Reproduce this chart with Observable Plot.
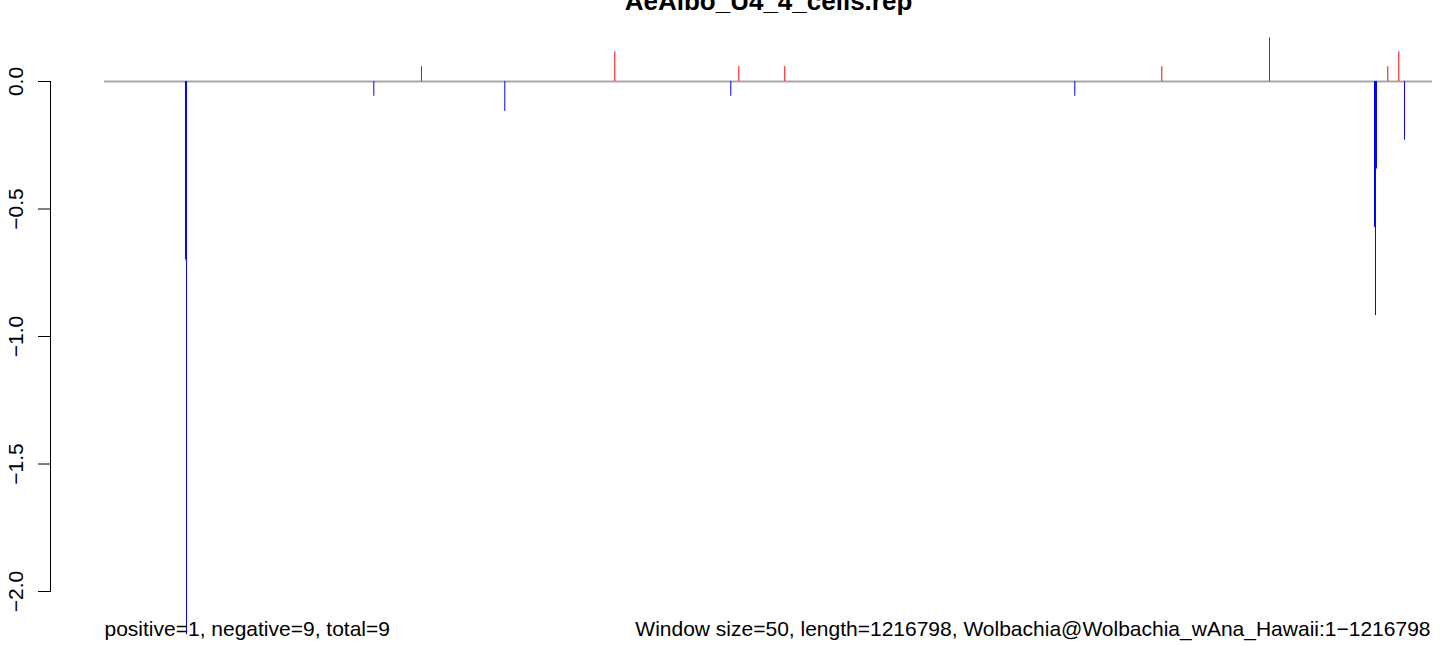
<!DOCTYPE html>
<html>
<head>
<meta charset="utf-8">
<script src="https://cdn.jsdelivr.net/npm/d3@7"></script>
<script src="https://cdn.jsdelivr.net/npm/@observablehq/plot@0.6"></script>
<style>
  html, body { margin: 0; padding: 0; background: #ffffff; }
  #chart svg { display: block; }
</style>
</head>
<body>
<div id="chart"></div>
<script>
const title = "AeAlbo_U4_4_cells.rep";
const genomeLength = 1216798;
const leftNote = "positive=1, negative=9, total=9";
const rightNote = "Window size=50, length=1216798, Wolbachia@Wolbachia_wAna_Hawaii:1\u22121216798";

// positive windows (red)
const posPositions = [290450, 467570, 581190, 623330, 968770, 1067450, 1175840, 1185920];
const posValues    = [0.058, 0.116, 0.058, 0.058, 0.058, 0.171, 0.058, 0.116];

// negative windows (blue)
const negPositions = [74200, 75130, 246750, 366780, 573850, 889050, 1163650, 1164565, 1165480, 1191140];
const negValues    = [-0.70, -2.17, -0.058, -0.117, -0.058, -0.058, -0.572, -0.918, -0.343, -0.23];

const yTicks = [0, -0.5, -1.0, -1.5, -2.0];

const positives = posPositions.map((p, i) => ({pos: p, value: posValues[i]}));
const negatives = negPositions.map((p, i) => ({pos: p, value: negValues[i]}));

const fmt = d3.format(".1f");
const font = "'Liberation Sans', Arial, Helvetica, sans-serif";

const chart = Plot.plot({
  width: 1444,
  height: 646,
  marginLeft: 50,
  marginRight: 12,
  marginTop: 81,
  marginBottom: 55,
  x: {domain: [0, genomeLength], range: [104, 1432], axis: null},
  y: {domain: [-2, 0], axis: null},
  style: {fontFamily: font, background: "#ffffff", color: "#000000", overflow: "visible"},
  marks: [
    Plot.ruleY([0], {x1: 0, x2: genomeLength, stroke: "#a6a6a6", strokeWidth: 2}),
    Plot.ruleX(positives, {x: "pos", y1: 0, y2: "value", stroke: "#ff0000", strokeWidth: 1}),
    Plot.ruleX(negatives, {x: "pos", y1: 0, y2: "value", stroke: "#0000ff", strokeWidth: 1}),
    Plot.axisY(yTicks, {tickSize: 12, tickFormat: () => "", label: null, stroke: "#000000"}),
    Plot.frame({anchor: "left", stroke: "#000000"}),
    Plot.text(yTicks, {y: d => d, text: d => fmt(d), frameAnchor: "left", dx: -28, rotate: -90,
      textAnchor: "middle", lineAnchor: "bottom", fontSize: 21, fill: "#000000"}),
    Plot.text([title], {x: () => genomeLength / 2, text: d => d, frameAnchor: "top", dy: -72,
      textAnchor: "middle", lineAnchor: "bottom", fontSize: 26, fontWeight: "bold", fill: "#000000"}),
    Plot.text([leftNote], {x: () => 0, text: d => d, frameAnchor: "bottom", dy: 44,
      textAnchor: "start", lineAnchor: "bottom", fontSize: 21, fill: "#000000"}),
    Plot.text([rightNote], {x: () => genomeLength, text: d => d, frameAnchor: "bottom", dy: 44, dx: -2,
      textAnchor: "end", lineAnchor: "bottom", fontSize: 21, fill: "#000000"})
  ]
});
document.getElementById("chart").appendChild(chart);
</script>
</body>
</html>
